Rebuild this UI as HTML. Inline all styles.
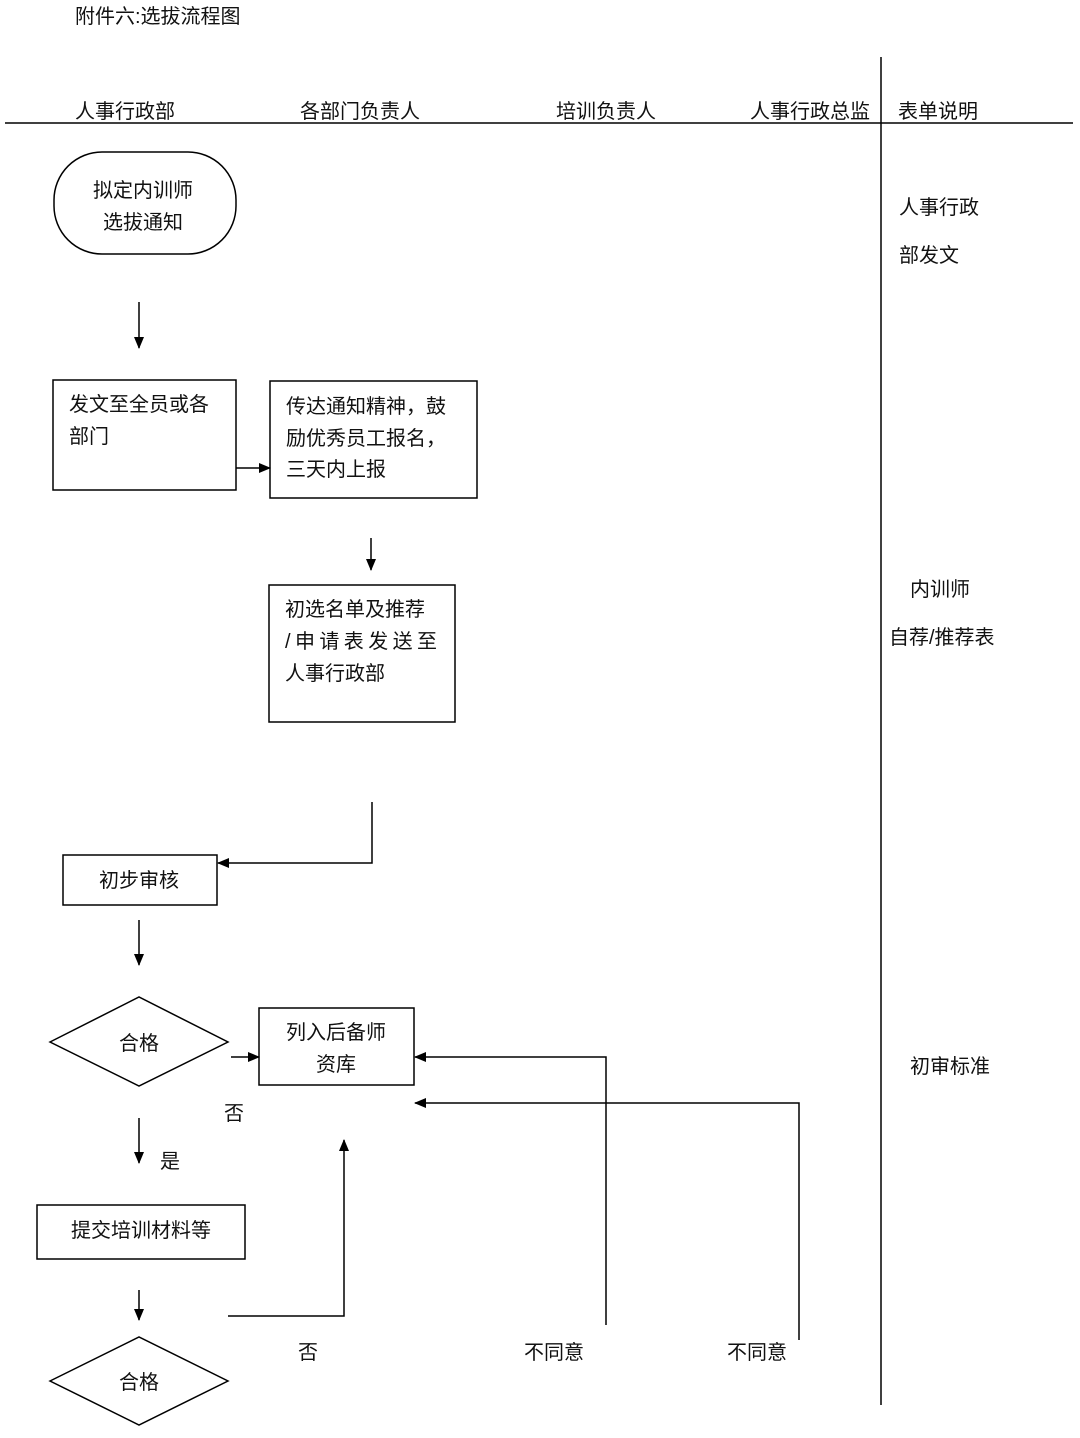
<!DOCTYPE html>
<html><head><meta charset="utf-8">
<style>
html,body{margin:0;padding:0;background:#fff;}
svg text{font-family:"Liberation Sans","Noto Sans CJK SC",sans-serif;font-size:20px;fill:#111;}
</style></head>
<body>
<svg width="1080" height="1433" viewBox="0 0 1080 1433" xmlns="http://www.w3.org/2000/svg">
<defs>
<marker id="a" markerWidth="12" markerHeight="10" refX="11" refY="5" orient="auto" markerUnits="userSpaceOnUse">
<path d="M0,0 L12,5 L0,10 Z" fill="#000"/></marker>
</defs>
<g stroke="#000" stroke-width="1.5" fill="none">
<line x1="881" y1="57" x2="881" y2="1405"/>
<line x1="5" y1="123" x2="1073" y2="123"/>
<rect x="54" y="152" width="182" height="102" rx="48" ry="48"/>
<line x1="139" y1="302" x2="139" y2="348" marker-end="url(#a)"/>
<rect x="53" y="380" width="183" height="110"/>
<line x1="236" y1="468" x2="270" y2="468" marker-end="url(#a)"/>
<rect x="270" y="381" width="207" height="117"/>
<line x1="371" y1="538" x2="371" y2="570" marker-end="url(#a)"/>
<rect x="269" y="585" width="186" height="137"/>
<polyline points="372,802 372,863 218,863" marker-end="url(#a)"/>
<rect x="63" y="855" width="154" height="50"/>
<line x1="139" y1="920" x2="139" y2="965" marker-end="url(#a)"/>
<polygon points="50,1042 139,997 228,1042 139,1086"/>
<line x1="231" y1="1057" x2="259" y2="1057" marker-end="url(#a)"/>
<rect x="259" y="1008" width="155" height="77"/>
<polyline points="606,1325 606,1057 415,1057" marker-end="url(#a)"/>
<polyline points="799,1340 799,1103 415,1103" marker-end="url(#a)"/>
<line x1="139" y1="1118" x2="139" y2="1163" marker-end="url(#a)"/>
<rect x="37" y="1205" width="208" height="54"/>
<line x1="139" y1="1290" x2="139" y2="1320" marker-end="url(#a)"/>
<polyline points="228,1316 344,1316 344,1140" marker-end="url(#a)"/>
<polygon points="50,1381 139,1337 228,1381 139,1425"/>
</g>
<text x="75" y="23">附件六:选拔流程图</text>
<text x="75" y="118">人事行政部</text>
<text x="300" y="118">各部门负责人</text>
<text x="556" y="118">培训负责人</text>
<text x="750" y="118">人事行政总监</text>
<text x="898" y="118">表单说明</text>
<text x="143" y="197" text-anchor="middle">拟定内训师</text>
<text x="143" y="229" text-anchor="middle">选拔通知</text>
<text x="69" y="411">发文至全员或各</text>
<text x="69" y="443">部门</text>
<text x="286" y="413">传达通知精神，鼓</text>
<text x="286" y="445">励优秀员工报名，</text>
<text x="286" y="476">三天内上报</text>
<text x="285" y="616">初选名单及推荐</text>
<text x="285" y="648" textLength="152">/申请表发送至</text>
<text x="285" y="680">人事行政部</text>
<text x="139" y="887" text-anchor="middle">初步审核</text>
<text x="139" y="1050" text-anchor="middle">合格</text>
<text x="336" y="1039" text-anchor="middle">列入后备师</text>
<text x="336" y="1071" text-anchor="middle">资库</text>
<text x="224" y="1120">否</text>
<text x="160" y="1168">是</text>
<text x="141" y="1237" text-anchor="middle">提交培训材料等</text>
<text x="139" y="1389" text-anchor="middle">合格</text>
<text x="298" y="1359">否</text>
<text x="524" y="1359">不同意</text>
<text x="727" y="1359">不同意</text>
<text x="899" y="214">人事行政</text>
<text x="899" y="262">部发文</text>
<text x="910" y="596">内训师</text>
<text x="889" y="644">自荐/推荐表</text>
<text x="910" y="1073">初审标准</text>
</svg>
</body></html>
